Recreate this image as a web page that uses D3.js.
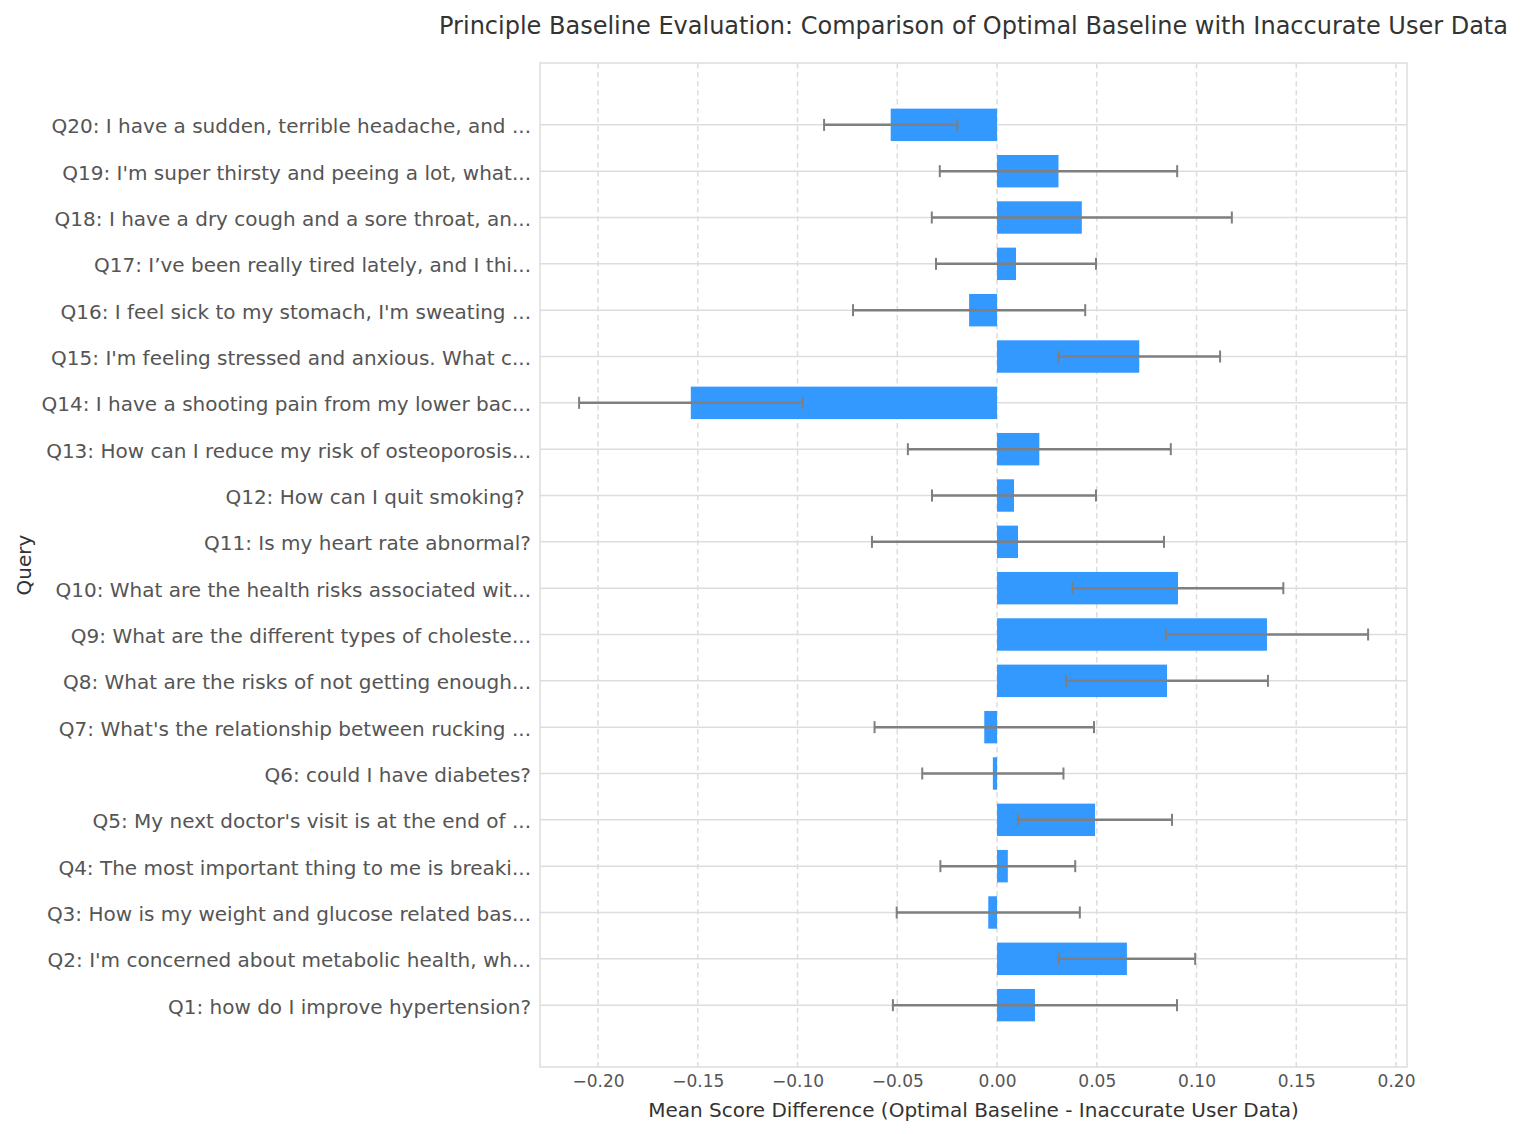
<!DOCTYPE html>
<html>
<head>
<meta charset="utf-8">
<script src="https://cdn.jsdelivr.net/npm/d3@7"></script>
<style>
  body { margin: 0; background: #fff; }
  svg { font-family: "DejaVu Sans", sans-serif; }
</style>
</head>
<body>
<div id="chart"></div>
<script>
// Data (Q1 .. Q20)

const queries = [
  "Q1: how do I improve hypertension?",
  "Q2: I'm concerned about metabolic health, wh...",
  "Q3: How is my weight and glucose related bas...",
  "Q4: The most important thing to me is breaki...",
  "Q5: My next doctor's visit is at the end of ...",
  "Q6: could I have diabetes?",
  "Q7: What's the relationship between rucking ...",
  "Q8: What are the risks of not getting enough...",
  "Q9: What are the different types of choleste...",
  "Q10: What are the health risks associated wit...",
  "Q11: Is my heart rate abnormal?",
  "Q12: How can I quit smoking? ",
  "Q13: How can I reduce my risk of osteoporosis...",
  "Q14: I have a shooting pain from my lower bac...",
  "Q15: I'm feeling stressed and anxious. What c...",
  "Q16: I feel sick to my stomach, I'm sweating ...",
  "Q17: I\u2019ve been really tired lately, and I thi...",
  "Q18: I have a dry cough and a sore throat, an...",
  "Q19: I'm super thirsty and peeing a lot, what...",
  "Q20: I have a sudden, terrible headache, and ..."
];

const meanDiff = [0.019, 0.0651, -0.0044, 0.0054, 0.0491, -0.0021, -0.0064, 0.0852, 0.1353, 0.0907,
                  0.0105, 0.0085, 0.0212, -0.1535, 0.0713, -0.0140, 0.0095, 0.0425, 0.0308, -0.0533];

const errHalf = [0.0712, 0.0342, 0.0459, 0.0338, 0.0386, 0.0354, 0.055, 0.0506, 0.0507, 0.0528,
                 0.0732, 0.0411, 0.0659, 0.056, 0.0405, 0.0582, 0.0401, 0.0752, 0.0595, 0.0334];

const xTicks = [-0.20, -0.15, -0.10, -0.05, 0.00, 0.05, 0.10, 0.15, 0.20];

// Config

const width = 1522;
const height = 1134;
const margin = { top: 63, right: 115, bottom: 67, left: 540 };
const gridColor = "#dddddd";
const textColor = "#555555";

const data = queries.map((q, i) => ({ q: q, v: meanDiff[i], e: errHalf[i] }));

const svg = d3.select("#chart")
  .append("svg")
  .attr("width", width)
  .attr("height", height);

// Scales

const xScale = d3.scaleLinear()
  .domain([-0.2291, 0.2055])
  .range([margin.left, width - margin.right]);

const yScale = d3.scaleBand()
  .domain(queries.slice().reverse())
  .range([margin.top, height - margin.bottom])
  .paddingInner(0.3)
  .paddingOuter(0.985);

const yMid = d => yScale(d) + yScale.bandwidth() / 2;

// Grid

svg.append("g")
  .selectAll("line")
  .data(xTicks)
  .join("line")
  .attr("x1", d => xScale(d)).attr("x2", d => xScale(d))
  .attr("y1", margin.top).attr("y2", height - margin.bottom)
  .attr("stroke", gridColor)
  .attr("stroke-width", 1.5)
  .attr("stroke-dasharray", "5.5,3.5");

svg.append("g")
  .selectAll("line")
  .data(queries)
  .join("line")
  .attr("x1", margin.left).attr("x2", width - margin.right)
  .attr("y1", d => yMid(d)).attr("y2", d => yMid(d))
  .attr("stroke", gridColor)
  .attr("stroke-width", 1.5);

// Bars

svg.append("g")
  .selectAll("rect")
  .data(data)
  .join("rect")
  .attr("x", d => xScale(Math.min(0, d.v)))
  .attr("width", d => Math.abs(xScale(d.v) - xScale(0)))
  .attr("y", d => yScale(d.q))
  .attr("height", yScale.bandwidth())
  .attr("fill", "#3399ff");

// Error bars

const err = svg.append("g")
  .attr("stroke", "#7f7f7f")
  .attr("stroke-width", 2.5);

err.selectAll("line.bar")
  .data(data)
  .join("line")
  .attr("class", "bar")
  .attr("x1", d => xScale(d.v - d.e)).attr("x2", d => xScale(d.v + d.e))
  .attr("y1", d => yMid(d.q)).attr("y2", d => yMid(d.q));

err.selectAll("line.capl")
  .data(data)
  .join("line")
  .attr("class", "capl")
  .attr("stroke-width", 2)
  .attr("x1", d => xScale(d.v - d.e)).attr("x2", d => xScale(d.v - d.e))
  .attr("y1", d => yMid(d.q) - 6).attr("y2", d => yMid(d.q) + 6);

err.selectAll("line.capr")
  .data(data)
  .join("line")
  .attr("class", "capr")
  .attr("stroke-width", 2)
  .attr("x1", d => xScale(d.v + d.e)).attr("x2", d => xScale(d.v + d.e))
  .attr("y1", d => yMid(d.q) - 6).attr("y2", d => yMid(d.q) + 6);

// Frame

svg.append("rect")
  .attr("x", margin.left)
  .attr("y", margin.top)
  .attr("width", width - margin.right - margin.left)
  .attr("height", height - margin.bottom - margin.top)
  .attr("fill", "none")
  .attr("stroke", gridColor)
  .attr("stroke-width", 1.5);

// Axes

const xAxis = d3.axisBottom(xScale)
  .tickValues(xTicks)
  .tickFormat(d3.format(".2f"))
  .tickSize(0)
  .tickPadding(8);

const gx = svg.append("g")
  .attr("transform", "translate(0," + (height - margin.bottom) + ")")
  .call(xAxis);

gx.select(".domain").remove();
gx.selectAll(".tick text")
  .attr("fill", textColor)
  .style("font-size", "17px")
  .style("font-family", "DejaVu Sans");

const yAxis = d3.axisLeft(yScale)
  .tickSize(0)
  .tickPadding(9);

const gy = svg.append("g")
  .attr("transform", "translate(" + margin.left + ",0)")
  .call(yAxis);

gy.select(".domain").remove();
gy.selectAll(".tick text")
  .attr("fill", textColor)
  .attr("dy", "0.42em")
  .style("font-size", "20px")
  .style("font-family", "DejaVu Sans")
  .style("white-space", "pre");

// Labels

svg.append("text")
  .attr("x", (margin.left + width - margin.right) / 2)
  .attr("y", 1117)
  .attr("text-anchor", "middle")
  .attr("fill", "#333")
  .style("font-size", "20px")
  .text("Mean Score Difference (Optimal Baseline - Inaccurate User Data)");

svg.append("text")
  .attr("transform", "translate(31," + ((margin.top + height - margin.bottom) / 2) + ") rotate(-90)")
  .attr("text-anchor", "middle")
  .attr("fill", "#333")
  .style("font-size", "20px")
  .text("Query");

svg.append("text")
  .attr("x", (margin.left + width - margin.right) / 2)
  .attr("y", 34)
  .attr("text-anchor", "middle")
  .attr("fill", "#333")
  .style("font-size", "24px")
  .text("Principle Baseline Evaluation: Comparison of Optimal Baseline with Inaccurate User Data");
</script>
</body>
</html>
